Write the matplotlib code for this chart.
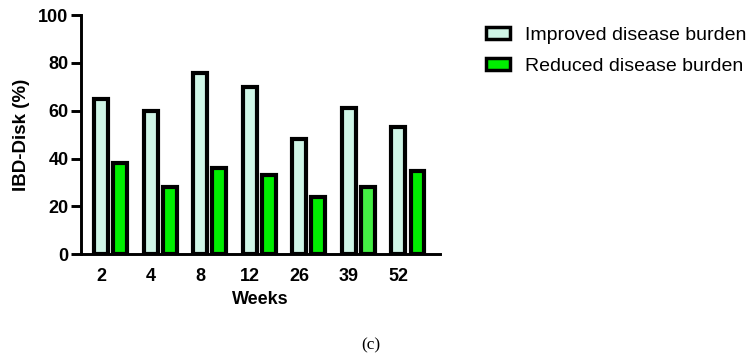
import matplotlib
matplotlib.use("Agg")
import matplotlib.pyplot as plt
import numpy as np

weeks = ["2", "4", "8", "12", "26", "39", "52"]
improved = [65, 60, 76, 70, 48, 61, 53]
reduced = [38, 28, 36, 33, 24, 28, 35]

plt.rcParams["font.family"] = ["Liberation Sans", "DejaVu Sans"]

fig = plt.figure(figsize=(7.56, 3.61), dpi=100)
ax = fig.add_axes([0.107, 0.296, 0.475, 0.662])

x = np.arange(len(weeks))
w = 0.28
reduced_colors = ["#00ee00"] * len(weeks)
reduced_colors[5] = "#44f044"
ax.bar(x, improved, w, color="#cff5e6", edgecolor="black", linewidth=3,
       label="Improved disease burden")
ax.bar(x + 0.385, reduced, w, color=reduced_colors, edgecolor="black", linewidth=3,
       label="Reduced disease burden")

ax.set_xlim(-0.41, 6.84)
ax.set_ylim(0, 100)
ax.set_yticks(range(0, 101, 20))
ax.set_xticks(x)
ax.set_xticklabels(weeks)

for s in ["top", "right"]:
    ax.spines[s].set_visible(False)
for s in ["left", "bottom"]:
    ax.spines[s].set_linewidth(2.1)

ax.tick_params(axis="y", length=7, width=2.1, pad=2, labelsize=13)
ax.tick_params(axis="x", length=0, pad=10, labelsize=13)
for lab in ax.get_xticklabels() + ax.get_yticklabels():
    lab.set_fontweight("bold")

ax.set_ylabel("IBD-Disk (%)", fontsize=13.5, fontweight="bold", labelpad=6)
ax.set_xlabel("Weeks", fontsize=13, fontweight="bold", labelpad=4)

leg = fig.legend(loc="upper left", bbox_to_anchor=(0.62, 0.975), frameon=False,
                 fontsize=14, handlelength=1.2, handleheight=0.6,
                 handletextpad=0.8, labelspacing=0.72)
for h in leg.legend_handles:
    h.set_linewidth(2.5)

fig.text(0.491, 0.043, "(c)", fontsize=12.5, family=["Liberation Serif", "DejaVu Serif"],
         ha="center", va="center")

fig.savefig("out.png", dpi=100)
